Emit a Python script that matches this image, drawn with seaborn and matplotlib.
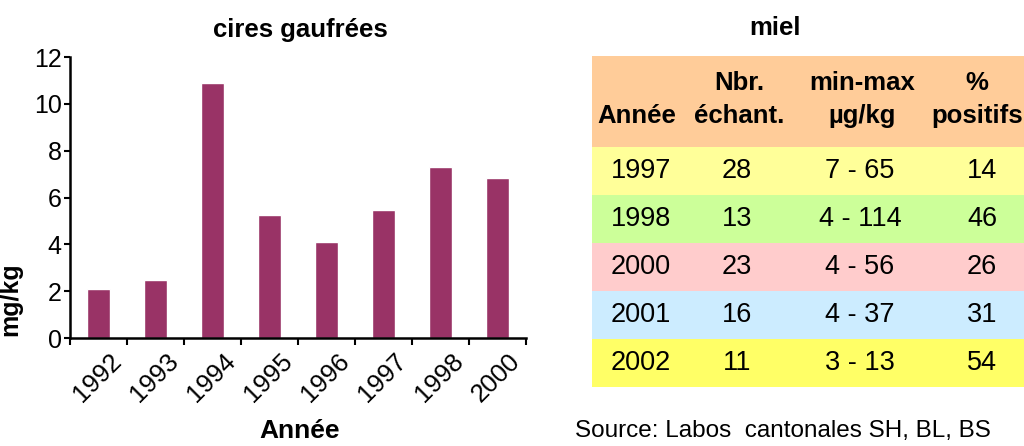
import pandas as pd
import numpy as np
import matplotlib.pyplot as plt
import matplotlib.transforms as mtrans
import seaborn as sns

# bar chart data (cires gaufrées)
years = ["1992", "1993", "1994", "1995", "1996", "1997", "1998", "2000"]
mg_kg = [2.1, 2.5, 10.9, 5.25, 4.1, 5.47, 7.3, 6.84]

# table data (miel)
header_top = ["", "Nbr.", "min-max", "%"]
header_bottom = ["Année", "échant.", "µg/kg", "positifs"]
miel_years = ["1997", "1998", "2000", "2001", "2002"]
nbr_echant = ["28", "13", "23", "16", "11"]
min_max = ["7 - 65", "4 - 114", "4 - 56", "4 - 37", "3 - 13"]
pct_positifs = ["14", "46", "26", "31", "54"]
row_colors = ["#FFFF99", "#CCFF99", "#FFCCCC", "#CCECFF", "#FFFF66"]
header_color = "#FFCC99"

sns.set_style("white")
plt.rcParams['font.family'] = ['Liberation Sans', 'DejaVu Sans']
for k in ["text.color", "axes.labelcolor", "xtick.color", "ytick.color"]:
    plt.rcParams[k] = "black"

fig = plt.figure(figsize=(10.24, 4.46), dpi=100)

# --- bar chart ---
ax = fig.add_axes([0.0684, 0.242, 0.445, 0.630])
df = pd.DataFrame({"Année": years, "mg/kg": mg_kg})
sns.barplot(data=df, x="Année", y="mg/kg", color="#993366", saturation=1,
            width=0.41, ax=ax)
ax.set_ylim(0, 12)
ax.set_xlim(-0.5, len(years) - 0.5)
ax.set_yticks(range(0, 13, 2))
ax.tick_params(axis="y", labelsize=18, length=4, width=1.5, direction="out", left=True, pad=2)
ax.tick_params(axis="x", which="major", labelsize=18.5, length=0, pad=8)
ax.set_xticks(np.arange(-0.5, len(years), 1), minor=True)
ax.tick_params(axis="x", which="minor", length=5, width=1.5, direction="out", bottom=True)
shift = mtrans.ScaledTranslation(0.11, 0, fig.dpi_scale_trans)
for lab in ax.get_xticklabels():
    lab.set_rotation(45)
    lab.set_ha("right")
    lab.set_rotation_mode("anchor")
    lab.set_transform(lab.get_transform() + shift)
for s in ["top", "right"]:
    ax.spines[s].set_visible(False)
for s in ["left", "bottom"]:
    ax.spines[s].set_color("black")
    ax.spines[s].set_linewidth(1.8)
ax.set_xlabel("")
ax.set_ylabel("mg/kg", fontsize=18, fontweight="bold")
ax.yaxis.set_label_coords(-0.105, 0.14)
fig.text(0.293, 0.96, "cires gaufrées", fontsize=18.5, fontweight="bold", ha="center", va="top")
fig.text(0.293, 0.006, "Année", fontsize=19, fontweight="bold", ha="center", va="bottom")

# --- table ---
tx = fig.add_axes([0.578, 0.132, 0.422, 0.742])
header_h = 1.9
n = len(miel_years)
tx.set_xlim(0, 432)
tx.set_ylim(n + header_h, 0)
tx.axis("off")
tx.axhspan(0, header_h, color=header_color, lw=0)
for i, c in enumerate(row_colors):
    tx.axhspan(header_h + i, header_h + i + 1, color=c, lw=0)

col_x = [45, 147, 270, 385]
for j in range(4):
    tx.text(col_x[j], header_h * 0.29, header_top[j], ha="center", va="center",
            fontsize=18.5, fontweight="bold")
    tx.text(col_x[j], header_h * 0.66, header_bottom[j], ha="center", va="center",
            fontsize=18.5, fontweight="bold")

data_x = [49, 145, 268, 390]
for i in range(n):
    y = header_h + i + 0.5
    for j, val in enumerate([miel_years[i], nbr_echant[i], min_max[i], pct_positifs[i]]):
        tx.text(data_x[j], y, val, ha="center", va="center", fontsize=19.5)

fig.text(0.757, 0.965, "miel", fontsize=18.5, fontweight="bold", ha="center", va="top")
fig.text(0.562, 0.008, "Source: Labos  cantonales SH, BL, BS", fontsize=17.5,
         ha="left", va="bottom")

plt.savefig("out.png", dpi=100)
